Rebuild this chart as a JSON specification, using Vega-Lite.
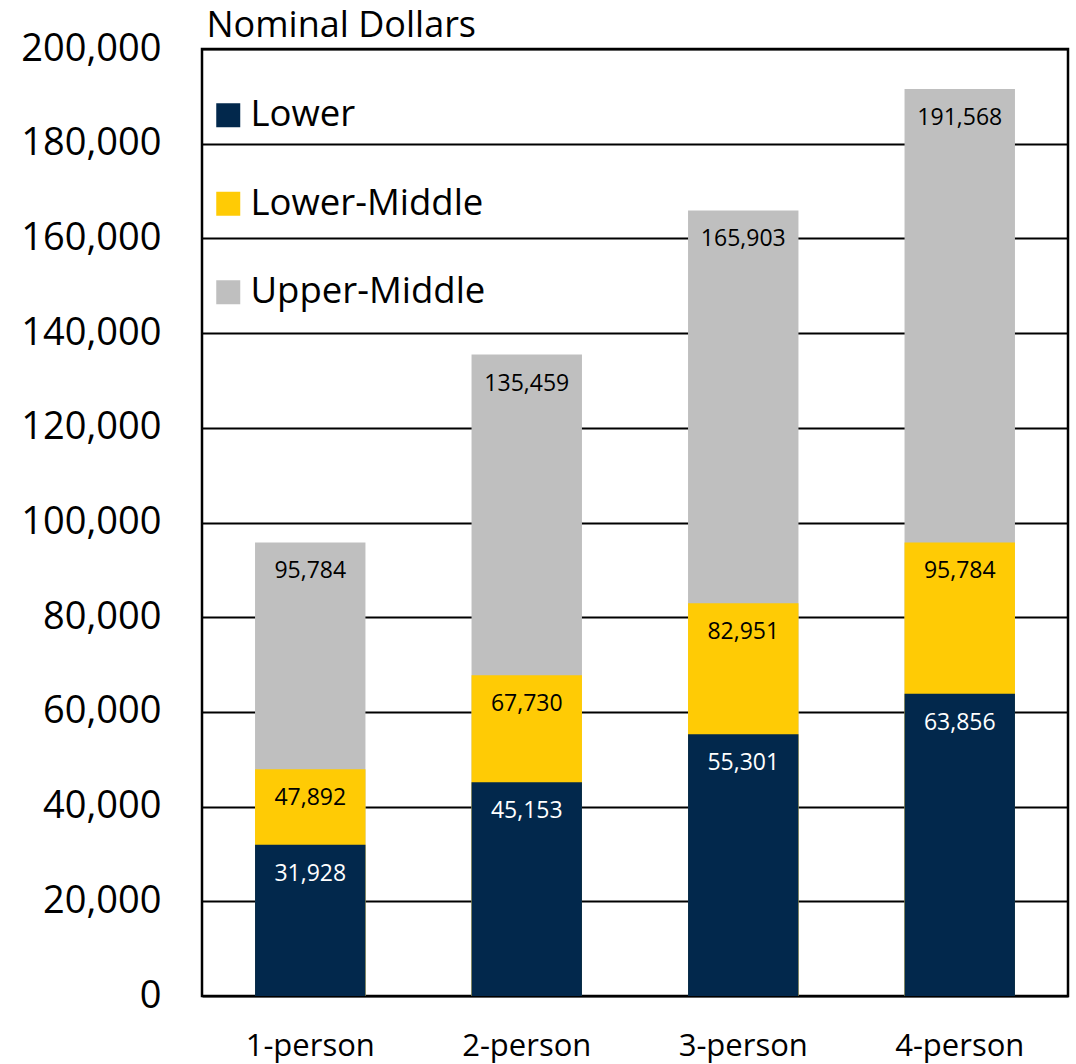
{
  "$schema": "https://vega.github.io/schema/vega-lite/v6.json",
  "autosize": "none",
  "width": 866,
  "height": 947,
  "padding": {"left": 202, "top": 49, "right": 8, "bottom": 68},
  "background": "white",
  "config": {
    "font": "Open Sans",
    "view": {"stroke": "black", "strokeWidth": 2.5}
  },
  "data": {
    "values": [
      {"household": "1-person", "tier": "Upper-Middle", "value": 95784},
      {"household": "1-person", "tier": "Lower-Middle", "value": 47892},
      {"household": "1-person", "tier": "Lower", "value": 31928},
      {"household": "2-person", "tier": "Upper-Middle", "value": 135459},
      {"household": "2-person", "tier": "Lower-Middle", "value": 67730},
      {"household": "2-person", "tier": "Lower", "value": 45153},
      {"household": "3-person", "tier": "Upper-Middle", "value": 165903},
      {"household": "3-person", "tier": "Lower-Middle", "value": 82951},
      {"household": "3-person", "tier": "Lower", "value": 55301},
      {"household": "4-person", "tier": "Upper-Middle", "value": 191568},
      {"household": "4-person", "tier": "Lower-Middle", "value": 95784},
      {"household": "4-person", "tier": "Lower", "value": 63856}
    ]
  },
  "encoding": {
    "x": {
      "field": "household",
      "type": "nominal",
      "sort": null,
      "scale": {"paddingInner": 0.49, "paddingOuter": 0.245},
      "axis": {
        "title": null,
        "labelAngle": 0,
        "labelFontSize": 31,
        "labelColor": "black",
        "labelBaseline": "alphabetic",
        "labelPadding": 59,
        "ticks": false,
        "tickSize": 0,
        "domain": false
      }
    },
    "y": {
      "field": "value",
      "type": "quantitative",
      "stack": null,
      "scale": {"domain": [0, 200000], "nice": false},
      "axis": {
        "tickCount": 10,
        "labelExpr": "format(datum.value, ',')",
        "labelFontSize": 38,
        "labelColor": "black",
        "labelPadding": 41,
        "labelLimit": 400,
        "ticks": false,
        "tickSize": 0,
        "domain": false,
        "gridColor": "black",
        "gridWidth": 1.8,
        "gridOpacity": 1,
        "title": "Nominal Dollars",
        "titleAngle": 0,
        "titleAlign": "left",
        "titleBaseline": "alphabetic",
        "titleX": 4,
        "titleY": -13,
        "titleFontSize": 36,
        "titleFontWeight": "normal",
        "titleColor": "black"
      }
    }
  },
  "layer": [
    {
      "mark": {"type": "bar"},
      "encoding": {
        "color": {
          "field": "tier",
          "type": "nominal",
          "scale": {
            "domain": ["Lower", "Lower-Middle", "Upper-Middle"],
            "range": ["#02284C", "#FFCB05", "#BFBFBF"]
          },
          "legend": {
            "title": null,
            "orient": "none",
            "legendX": 8,
            "legendY": 48,
            "padding": 0,
            "symbolType": "square",
            "symbolSize": 576,
            "symbolStrokeWidth": 0,
            "symbolOpacity": 1,
            "labelFontSize": 36.5,
            "labelColor": "black",
            "labelOffset": 4,
            "labelLimit": 500,
            "rowPadding": 51.5,
            "direction": "vertical"
          }
        }
      }
    },
    {
      "mark": {"type": "text", "baseline": "middle", "dy": 29, "fontSize": 23},
      "encoding": {
        "text": {"field": "value", "type": "quantitative", "format": ","},
        "color": {
          "condition": {"test": "datum.tier === 'Lower'", "value": "white"},
          "value": "black"
        }
      }
    }
  ]
}
